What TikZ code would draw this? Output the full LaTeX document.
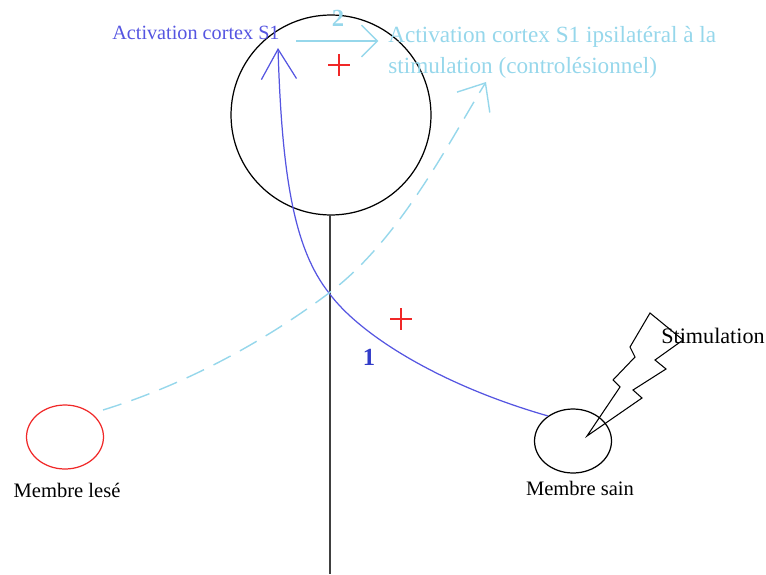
\documentclass[tikz,border=0pt]{standalone}
\usepackage{fontspec}
\setmainfont{Liberation Serif}
\usetikzlibrary{arrows.meta,shapes.geometric}

\definecolor{bleu}{RGB}{85,85,225}
\definecolor{bleufonce}{RGB}{50,60,200}
\definecolor{bleuclair}{RGB}{150,215,235}
\definecolor{rouge}{RGB}{240,40,40}

\begin{document}
\begin{tikzpicture}[x=0.02cm, y=-0.02cm,
  membre/.style={ellipse, draw, line width=0.7pt, minimum width=1.54cm, minimum height=1.28cm, inner sep=0},
  legende/.style={font=\fontsize{11.7}{14}\selectfont, inner sep=0},
  chiffre/.style={font=\fontsize{14}{14}\selectfont\bfseries, inner sep=0},
  plusmark/.style={rouge, line width=1.3pt}]
\useasboundingbox (0,0) rectangle (766,574);

% tete et ligne mediane
\node [circle, draw, line width=0.7pt, minimum size=4cm, inner sep=0] (tete) at (331,115) {};
\coordinate (bas) at (330,574);
\draw [line width=1.1pt, black!75] (330,215) -- (bas);

% membres
\node [membre, draw=rouge] (lese) at (65,437) {};
\node [membre] (sain) at (573,441) {};
\node [legende] (lblese) at (67,490) {Membre lesé};
\node [legende] (lbsain) at (580,488) {Membre sain};

% voies
\coordinate (croise) at (329,293);
\coordinate (pointeS1) at (278,48);
\coordinate (departL) at (103,410);
\coordinate (pointeC) at (486,82);
\draw [bleu, line width=0.7pt, -{Straight Barb[length=17pt, width=20pt]}] (sain.135) .. controls (440,385) and (360,335) .. (croise) .. controls (295,250) and (282,180) .. (pointeS1);
\draw [bleuclair, line width=0.8pt, dash pattern=on 11pt off 6pt, -{Straight Barb[length=13pt, width=22pt]}] (departL) .. controls (200,380) and (280,330) .. (croise) .. controls (400,240) and (450,140) .. (pointeC);

% textes du haut
\node [anchor=west, bleu, font=\fontsize{11.5}{14}\selectfont, inner sep=0] (actS1) at (112,33) {Activation cortex S1};
\node [anchor=west, bleuclair, align=left, font=\fontsize{13.2}{17.6}\selectfont, inner sep=0] (actipsi) at (388,52) {Activation cortex S1 ipsilatéral à la\\stimulation (controlésionnel)};
\coordinate (depart2) at (296,41);
\draw [bleuclair, line width=0.8pt, shorten >=5.5pt, -{Straight Barb[length=9pt, width=18pt]}] (depart2) -- (actipsi.west |- depart2);
\node [chiffre, bleuclair] (deux) at (338,18) {2};
\node [chiffre, bleufonce] (un) at (369,357) {1};

% signes plus
\draw [plusmark] (328,65) -- (350,65) (339,54) -- (339,76);
\draw [plusmark] (390,319) -- (412,319) (401,308) -- (401,330);

% eclair de stimulation
\draw [line width=0.6pt] (650,313) -- (683,340) -- (655,360) -- (666,369) -- (633,390) -- (642,398) -- (587,436) -- (620,387) -- (613,380) -- (635,357) -- (630,347) -- cycle;
\node [font=\fontsize{12.6}{14}\selectfont, inner sep=0] (stim) at (713,336) {Stimulation};
\end{tikzpicture}
\end{document}
